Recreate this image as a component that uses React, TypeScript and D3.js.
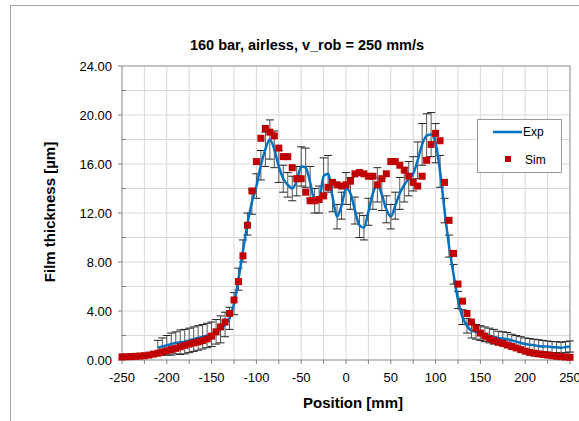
import React from "react";
import * as d3 from "d3";

const title = "160 bar, airless, v_rob = 250 mm/s";
const xLabel = "Position [mm]";
const yLabel = "Film thickness [µm]";

const xTicks = [-250, -200, -150, -100, -50, 0, 50, 100, 150, 200, 250];
const yTicks = [0, 4, 8, 12, 16, 20, 24];

const expPos = [
  -210, -205, -200, -195, -190, -185, -180, -175, -170, -165, -160, -155, -150, -145, -140, -135, -130,
  -125, -120, -115, -110, -105, -100, -95, -90, -85, -80, -75, -70, -65, -60, -55, -50, -45, -40, -35,
  -30, -25, -20, -15, -10, -5, 0, 5, 10, 15, 20, 25, 30, 35, 40, 45, 50, 55, 60, 65, 70, 75, 80, 85,
  90, 95, 100, 105, 110, 115, 120, 125, 130, 135, 140, 145, 150, 155, 160, 165, 170, 175, 180, 185,
  190, 195, 200, 205, 210, 215, 220, 225, 230, 235, 240, 245, 250,
];
const expVal = [
  1.0, 1.1, 1.2, 1.3, 1.4, 1.45, 1.5, 1.6, 1.7, 1.8, 1.9, 2.0, 2.1, 2.3, 2.5, 2.9, 3.4,
  4.6, 6.6, 8.9, 11.1, 12.9, 14.2, 15.9, 17.2, 18.0, 17.2, 15.8, 14.8, 14.3, 14.0, 14.6, 15.8, 15.7, 14.5, 13.0,
  13.1, 15.0, 15.2, 13.3, 11.7, 12.6, 14.0, 13.6, 12.2, 11.0, 10.8, 12.1, 13.6, 14.3, 13.5, 12.3, 11.7, 12.6, 13.6, 14.3, 14.8, 15.2, 16.3, 17.6,
  18.3, 18.4, 17.7, 15.4, 12.2, 9.3, 7.0, 4.9, 3.5, 2.8, 2.4, 2.3, 2.2, 2.1, 2.0, 1.9, 1.8, 1.75, 1.7, 1.6,
  1.5, 1.4, 1.3, 1.25, 1.2, 1.15, 1.1, 1.1, 1.05, 1.05, 1.0, 1.05, 1.1,
];
const expErr = [
  0.6, 0.7, 0.8, 0.9, 0.9, 1.0, 1.0, 1.0, 1.0, 1.0, 1.0, 1.0, 1.0, 1.0, 1.1, 1.0, 0.9,
  0.9, 0.9, 0.9, 0.9, 1.0, 1.0, 1.2, 1.4, 1.6, 1.5, 1.3, 1.1, 1.0, 1.0, 1.2, 1.6, 1.6, 1.3, 1.0,
  1.1, 1.5, 1.5, 1.2, 1.0, 1.1, 1.3, 1.3, 1.1, 1.0, 1.0, 1.1, 1.3, 1.4, 1.3, 1.1, 1.0, 1.1, 1.3, 1.4, 1.4, 1.4, 1.5, 1.7,
  1.8, 1.8, 1.6, 1.3, 1.0, 0.9, 0.8, 0.7, 0.6, 0.6, 0.6, 0.6, 0.6, 0.6, 0.6, 0.6, 0.55, 0.55, 0.55, 0.5,
  0.5, 0.5, 0.5, 0.5, 0.5, 0.5, 0.5, 0.45, 0.45, 0.45, 0.45, 0.45, 0.45,
];

const simPos = [
  -250, -245, -240, -235, -230, -225, -220, -215, -210, -205, -200, -195, -190, -185, -180, -175, -170,
  -165, -160, -155, -150, -145, -140, -135, -130, -125, -120, -115, -110, -105, -100, -95, -90, -85,
  -80, -75, -70, -65, -60, -55, -50, -45, -40, -35, -30, -25, -20, -15, -10, -5, 0, 5, 10, 15, 20, 25,
  30, 35, 40, 45, 50, 55, 60, 65, 70, 75, 80, 85, 90, 95, 100, 105, 110, 115, 120, 125, 130, 135, 140,
  145, 150, 155, 160, 165, 170, 175, 180, 185, 190, 195, 200, 205, 210, 215, 220, 225, 230, 235, 240,
  245, 250,
];
const simVal = [
  0.25, 0.27, 0.28, 0.3, 0.32, 0.35, 0.4, 0.48, 0.55, 0.65, 0.75, 0.85, 0.95, 1.08, 1.2, 1.3, 1.4,
  1.48, 1.58, 1.72, 1.95, 2.3, 2.7, 3.1, 3.8, 4.9, 6.4, 8.5, 11.0, 13.8, 16.2, 18.1, 18.9, 18.6,
  18.3, 17.3, 16.6, 16.6, 15.7, 14.8, 14.8, 13.7, 13.0, 13.0, 13.1, 13.4, 14.1, 14.5, 14.3, 14.2, 14.3, 14.6, 15.2, 15.3, 15.2, 15.0,
  15.0, 14.3, 14.8, 15.2, 16.2, 16.2, 15.9, 15.5, 15.0, 14.5, 14.2, 15.0, 16.3, 17.6, 18.5, 17.9, 14.5, 11.4, 8.7, 6.2, 4.8, 3.8, 3.1,
  2.6, 2.2, 1.95, 1.75, 1.6, 1.45, 1.35, 1.22, 1.1, 0.98, 0.85, 0.72, 0.62, 0.55, 0.5, 0.45, 0.4, 0.35, 0.3, 0.27,
  0.25, 0.22,
];

const W = 579;
const H = 421;
const plot = { left: 122, right: 570, top: 66, bottom: 360 };
const BLUE = "#0070C0";
const RED = "#C00000";
const FONT = "'Liberation Sans', Arial, sans-serif";

export default function App() {
  const x = d3.scaleLinear().domain([-250, 250]).range([plot.left, plot.right]);
  const y = d3.scaleLinear().domain([0, 24]).range([plot.bottom, plot.top]);

  const xGrid = d3.range(-250, 250.1, 25);
  const yGrid = d3.range(0, 24.1, 2);

  const expData = expPos.map((p, i) => ({ p, v: expVal[i], e: expErr[i] }));
  const simData = simPos.map((p, i) => ({ p, v: simVal[i] }));

  const line = d3
    .line<{ p: number; v: number }>()
    .x((d) => x(d.p))
    .y((d) => y(d.v))
    .curve(d3.curveMonotoneX);

  return (
    <svg width={W} height={H} style={{ position: "absolute", left: 0, top: 0, background: "#fff" }} fontFamily={FONT}>
      <rect x={10.5} y={5.5} width={700} height={600} fill="#fff" stroke="#a6a6a6" strokeWidth={1} />
      <text x={307} y={50} textAnchor="middle" fontSize={14.5} fontWeight="bold" fill="#000">
        {title}
      </text>

      {xGrid.map((g) => (
        <line key={"gx" + g} x1={x(g)} x2={x(g)} y1={plot.top} y2={plot.bottom} stroke="#d9d9d9" strokeWidth={1} />
      ))}
      {yGrid.map((g) => (
        <line key={"gy" + g} x1={plot.left} x2={plot.right} y1={y(g)} y2={y(g)} stroke="#d9d9d9" strokeWidth={1} />
      ))}
      <rect
        x={plot.left}
        y={plot.top}
        width={plot.right - plot.left}
        height={plot.bottom - plot.top}
        fill="none"
        stroke="#999"
        strokeWidth={1}
      />

      {yTicks.map((t) => (
        <g key={"yt" + t}>
          <line x1={plot.left - 4} x2={plot.left} y1={y(t)} y2={y(t)} stroke="#808080" />
          <text x={plot.left - 10} y={y(t) + 4.5} textAnchor="end" fontSize={13} fill="#000">
            {t.toFixed(2)}
          </text>
        </g>
      ))}
      {yGrid
        .filter((g) => g % 4 !== 0)
        .map((g) => (
          <line key={"ym" + g} x1={plot.left} x2={plot.left + 4} y1={y(g)} y2={y(g)} stroke="#808080" />
        ))}
      {xGrid.map((g) => (
        <line key={"xt" + g} x1={x(g)} x2={x(g)} y1={plot.bottom} y2={plot.bottom + 4} stroke="#808080" />
      ))}
      {xTicks.map((t) => (
        <text key={"xl" + t} x={x(t)} y={plot.bottom + 22} textAnchor="middle" fontSize={13} fill="#000">
          {t}
        </text>
      ))}

      <text x={353} y={408} textAnchor="middle" fontSize={15} fontWeight="bold" fill="#000">
        {xLabel}
      </text>
      <text
        transform={`translate(55,212) rotate(-90)`}
        textAnchor="middle"
        fontSize={15}
        fontWeight="bold"
        fill="#000"
      >
        {yLabel}
      </text>

      {expData.map((d, i) => (
        <g key={"eb" + i}>
          <line x1={x(d.p)} x2={x(d.p)} y1={y(d.v - d.e)} y2={y(d.v + d.e)} stroke="#555" strokeWidth={1} />
          <line x1={x(d.p) - 4} x2={x(d.p) + 4} y1={y(d.v - d.e)} y2={y(d.v - d.e)} stroke="#222" strokeWidth={1} />
          <line x1={x(d.p) - 4} x2={x(d.p) + 4} y1={y(d.v + d.e)} y2={y(d.v + d.e)} stroke="#222" strokeWidth={1} />
        </g>
      ))}

      <path d={line(expData) || ""} fill="none" stroke={BLUE} strokeWidth={2.5} />

      {simData.map((d, i) => (
        <rect key={"s" + i} x={x(d.p) - 3.5} y={y(d.v) - 3.5} width={7} height={7} fill={RED} />
      ))}

      <rect x={477.5} y={119.5} width={84} height={53} fill="#fff" stroke="#999" />
      <line x1={493} x2={522} y1={132} y2={132} stroke={BLUE} strokeWidth={2.5} />
      <text x={523} y={136} fontSize={12} fill="#000">
        Exp
      </text>
      <rect x={505} y={156} width={6} height={6} fill={RED} />
      <text x={525} y={164} fontSize={12} fill="#000">
        Sim
      </text>
    </svg>
  );
}
